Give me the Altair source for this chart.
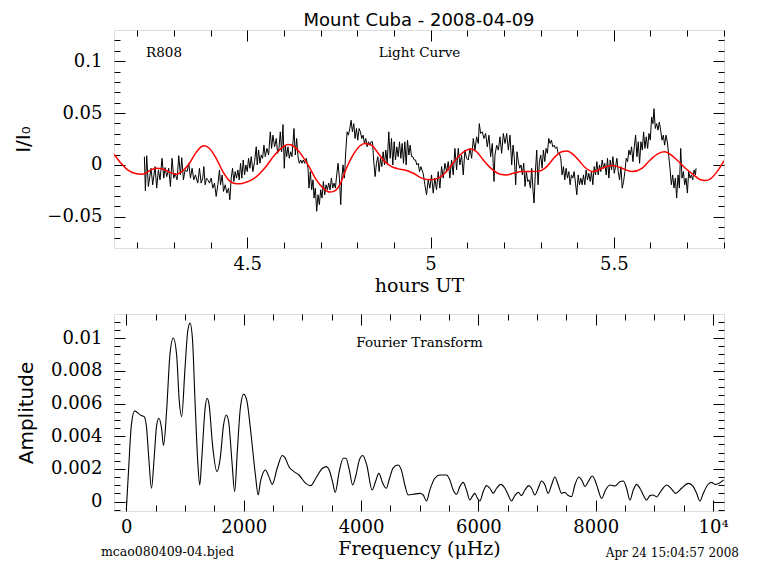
import altair as alt
import pandas as pd

# ---------------- data ----------------
LC_HOURS = [
    4.2195, 4.2222, 4.2258, 4.2303, 4.2376, 4.2422, 4.2486, 4.2531, 4.2577, 4.2622,
    4.2677, 4.2723, 4.2759, 4.2805, 4.2859, 4.2905, 4.2950, 4.2996, 4.3032, 4.3087,
    4.3132, 4.3178, 4.3214, 4.3260, 4.3306, 4.3360, 4.3406, 4.3451, 4.3497, 4.3542,
    4.3588, 4.3652, 4.3697, 4.3743, 4.3788, 4.3816, 4.3852, 4.3889, 4.3925, 4.3971,
    4.4016, 4.4062, 4.4107, 4.4153, 4.4198, 4.4244, 4.4271, 4.4317, 4.4353, 4.4399,
    4.4444, 4.4490, 4.4526, 4.4563, 4.4599, 4.4636, 4.4672, 4.4708, 4.4745, 4.4781,
    4.4818, 4.4854, 4.4891, 4.4927, 4.4964, 4.5000, 4.5036, 4.5073, 4.5109, 4.5155,
    4.5200, 4.5246, 4.5273, 4.5310, 4.5346, 4.5383, 4.5419, 4.5456, 4.5492, 4.5537,
    4.5583, 4.5629, 4.5665, 4.5701, 4.5747, 4.5793, 4.5829, 4.5865, 4.5902, 4.5938,
    4.5975, 4.6011, 4.6039, 4.6075, 4.6111, 4.6148, 4.6184, 4.6221, 4.6275, 4.6312,
    4.6348, 4.6385, 4.6421, 4.6458, 4.6494, 4.6530, 4.6567, 4.6612, 4.6658, 4.6685,
    4.6722, 4.6758, 4.6794, 4.6822, 4.6858, 4.6895, 4.6931, 4.6968, 4.7004, 4.7041,
    4.7077, 4.7114, 4.7150, 4.7186, 4.7223, 4.7259, 4.7296, 4.7332, 4.7369, 4.7405,
    4.7441, 4.7478, 4.7514, 4.7551, 4.7578, 4.7614, 4.7651, 4.7687, 4.7724, 4.7760,
    4.7797, 4.7833, 4.7869, 4.7906, 4.7942, 4.7979, 4.8015, 4.8052, 4.8088, 4.8124,
    4.8161, 4.8197, 4.8234, 4.8270, 4.8307, 4.8343, 4.8379, 4.8416, 4.8452, 4.8489,
    4.8525, 4.8562, 4.8598, 4.8634, 4.8671, 4.8707, 4.8744, 4.8780, 4.8817, 4.8862,
    4.8899, 4.8935, 4.8971, 4.9008, 4.9044, 4.9081, 4.9117, 4.9154, 4.9190, 4.9226,
    4.9263, 4.9299, 4.9336, 4.9372, 4.9409, 4.9445, 4.9481, 4.9518, 4.9554, 4.9591,
    4.9627, 4.9664, 4.9700, 4.9736, 4.9800, 4.9845, 4.9891, 4.9936, 4.9982, 5.0027,
    5.0073, 5.0118, 5.0164, 5.0210, 5.0255, 5.0301, 5.0346, 5.0392, 5.0437, 5.0483,
    5.0528, 5.0574, 5.0619, 5.0665, 5.0711, 5.0756, 5.0802, 5.0847, 5.0893, 5.0938,
    5.0984, 5.1029, 5.1075, 5.1121, 5.1166, 5.1212, 5.1257, 5.1303, 5.1330, 5.1367,
    5.1412, 5.1458, 5.1503, 5.1549, 5.1594, 5.1640, 5.1685, 5.1731, 5.1758, 5.1804,
    5.1849, 5.1895, 5.1940, 5.1986, 5.2032, 5.2077, 5.2123, 5.2168, 5.2214, 5.2250,
    5.2287, 5.2323, 5.2359, 5.2396, 5.2432, 5.2469, 5.2505, 5.2542, 5.2578, 5.2614,
    5.2651, 5.2687, 5.2724, 5.2760, 5.2797, 5.2824, 5.2860, 5.2897, 5.2933, 5.2970,
    5.3006, 5.3043, 5.3079, 5.3116, 5.3152, 5.3188, 5.3225, 5.3261, 5.3298, 5.3334,
    5.3371, 5.3407, 5.3444, 5.3480, 5.3516, 5.3553, 5.3589, 5.3626, 5.3662, 5.3699,
    5.3735, 5.3772, 5.3808, 5.3844, 5.3881, 5.3917, 5.3954, 5.3990, 5.4027, 5.4063,
    5.4100, 5.4136, 5.4172, 5.4209, 5.4245, 5.4282, 5.4318, 5.4355, 5.4391, 5.4427,
    5.4464, 5.4500, 5.4537, 5.4573, 5.4610, 5.4646, 5.4683, 5.4719, 5.4755, 5.4792,
    5.4828, 5.4865, 5.4901, 5.4938, 5.4974, 5.5011, 5.5047, 5.5083, 5.5120, 5.5156,
    5.5193, 5.5229, 5.5266, 5.5302, 5.5338, 5.5375, 5.5411, 5.5448, 5.5484, 5.5521,
    5.5557, 5.5594, 5.5630, 5.5666, 5.5703, 5.5739, 5.5776, 5.5812, 5.5849, 5.5885,
    5.5922, 5.5958, 5.5994, 5.6031, 5.6067, 5.6095, 5.6131, 5.6168, 5.6204, 5.6241,
    5.6277, 5.6314, 5.6350, 5.6386, 5.6423, 5.6459, 5.6496, 5.6532, 5.6569, 5.6605,
    5.6641, 5.6678, 5.6714, 5.6751, 5.6787, 5.6824, 5.6860, 5.6897, 5.6933, 5.6969,
    5.7006, 5.7042, 5.7079, 5.7115, 5.7152, 5.7188, 5.7225, 5.7243,
]
LC_FLUX = [
    0.0080, -0.0249, 0.0089, -0.0207, -0.0032, -0.0191, -0.0016, -0.0223, -0.0048, -0.0143,
    0.0064, -0.0127, -0.0025, -0.0112, -0.0032, -0.0207, 0.0064, -0.0127, -0.0080, -0.0143,
    0.0089, -0.0096, 0.0070, -0.0143, -0.0048, -0.0064, 0.0016, -0.0127, -0.0032, -0.0143,
    -0.0096, -0.0175, -0.0032, -0.0175, -0.0127, -0.0016, -0.0191, -0.0127, -0.0143, -0.0175,
    -0.0127, -0.0223, -0.0175, -0.0303, -0.0191, -0.0048, -0.0191, -0.0096, -0.0255, -0.0191,
    -0.0271, -0.0223, -0.0335, -0.0127, -0.0032, -0.0159, -0.0064, -0.0127, -0.0048, -0.0143,
    0.0016, -0.0127, 0.0048, -0.0096, 0.0000, -0.0064, 0.0064, -0.0032, 0.0080, -0.0064,
    0.0032, 0.0175, 0.0000, 0.0143, 0.0016, 0.0096, 0.0064, 0.0191, 0.0080, 0.0159,
    0.0096, 0.0319, 0.0159, 0.0287, 0.0175, 0.0255, 0.0112, 0.0159, 0.0319, 0.0127,
    0.0389, -0.0032, 0.0191, 0.0080, 0.0175, 0.0064, 0.0127, 0.0080, 0.0351, 0.0096,
    0.0255, 0.0080, 0.0016, 0.0048, 0.0016, 0.0048, 0.0016, 0.0064, -0.0032, -0.0223,
    -0.0064, -0.0239, -0.0143, -0.0319, -0.0223, -0.0446, -0.0287, -0.0382, -0.0239, -0.0319,
    -0.0159, -0.0287, -0.0191, -0.0239, -0.0175, -0.0239, -0.0127, -0.0223, -0.0175, -0.0223,
    -0.0096, 0.0016, -0.0127, -0.0382, -0.0127, 0.0000, -0.0127, 0.0127, 0.0319, 0.0287,
    0.0351, 0.0430, 0.0319, 0.0398, 0.0255, 0.0351, 0.0239, 0.0351, 0.0319, 0.0255,
    0.0287, 0.0207, 0.0255, 0.0175, 0.0223, 0.0191, 0.0223, 0.0223, 0.0032, -0.0112,
    0.0016, 0.0080, -0.0064, 0.0064, -0.0016, 0.0127, 0.0000, 0.0143, 0.0016, 0.0319,
    0.0064, 0.0255, 0.0000, 0.0223, 0.0048, 0.0175, 0.0080, 0.0223, 0.0064, 0.0207,
    0.0016, 0.0223, 0.0000, 0.0239, 0.0096, 0.0191, 0.0080, 0.0080, 0.0048, 0.0048,
    0.0000, 0.0016, -0.0064, -0.0016, -0.0080, -0.0191, -0.0287, -0.0143, -0.0223, -0.0096,
    -0.0271, -0.0127, -0.0239, -0.0064, -0.0223, -0.0016, -0.0127, 0.0016, -0.0064, 0.0032,
    -0.0127, 0.0048, -0.0096, 0.0159, -0.0048, 0.0159, 0.0000, 0.0096, -0.0096, 0.0143,
    0.0064, 0.0048, 0.0159, 0.0064, 0.0255, 0.0143, 0.0271, 0.0207, 0.0398, 0.0303,
    0.0319, 0.0255, 0.0303, 0.0175, 0.0287, 0.0080, 0.0207, -0.0159, 0.0096, 0.0191,
    0.0143, 0.0271, 0.0112, 0.0303, 0.0207, 0.0303, 0.0143, 0.0287, 0.0000, 0.0191,
    0.0064, -0.0191, 0.0127, 0.0032, -0.0032, 0.0000, -0.0096, 0.0016, -0.0207, -0.0064,
    -0.0159, -0.0143, -0.0223, -0.0032, -0.0255, -0.0367, -0.0064, 0.0143, -0.0191, 0.0032,
    0.0096, -0.0032, 0.0143, 0.0032, 0.0159, 0.0112, 0.0255, 0.0207, 0.0239, 0.0175,
    0.0191, 0.0159, 0.0175, 0.0112, 0.0112, 0.0064, -0.0096, -0.0016, -0.0143, -0.0032,
    -0.0127, -0.0064, -0.0191, -0.0096, -0.0127, -0.0064, -0.0175, -0.0287, -0.0096, -0.0191,
    -0.0127, -0.0191, -0.0096, -0.0191, -0.0048, -0.0143, -0.0080, -0.0159, -0.0064, -0.0191,
    -0.0016, -0.0096, 0.0032, -0.0096, 0.0000, -0.0064, 0.0048, -0.0032, 0.0016, -0.0096,
    0.0064, -0.0127, 0.0048, -0.0048, 0.0080, -0.0080, -0.0016, 0.0064, -0.0064, -0.0143,
    -0.0016, -0.0223, -0.0159, -0.0064, 0.0064, 0.0032, 0.0143, 0.0096, 0.0175, 0.0032,
    0.0175, 0.0287, 0.0080, 0.0223, 0.0016, 0.0223, 0.0143, 0.0319, 0.0159, 0.0271,
    0.0159, 0.0303, 0.0239, 0.0462, 0.0398, 0.0542, 0.0351, 0.0398, 0.0335, 0.0414,
    0.0335, 0.0239, 0.0287, 0.0191, 0.0287, 0.0223, 0.0096, -0.0032, -0.0191, -0.0096,
    -0.0223, -0.0127, -0.0319, -0.0096, -0.0223, 0.0159, -0.0127, -0.0064, -0.0191, -0.0127,
    -0.0271, -0.0064, -0.0127, -0.0096, -0.0143, -0.0048, -0.0096, -0.0032,
]

FIT_HOURS = [
    4.137, 4.1557, 4.1739, 4.1921, 4.2149, 4.2331, 4.2513, 4.2695, 4.2877, 4.3060,
    4.3242, 4.3424, 4.3606, 4.3743, 4.3834, 4.3971, 4.4153, 4.4335, 4.4517, 4.4654,
    4.4790, 4.4973, 4.5200, 4.5474, 4.5747, 4.5975, 4.6111, 4.6248, 4.6430, 4.6658,
    4.6886, 4.7068, 4.7250, 4.7387, 4.7523, 4.7706, 4.7888, 4.8070, 4.8207, 4.8389,
    4.8571, 4.8753, 4.8936, 4.9118, 4.9300, 4.9528, 4.9754, 5.0000, 5.0210, 5.0392,
    5.0574, 5.0802, 5.0984, 5.1121, 5.1257, 5.1439, 5.1667, 5.1895, 5.2077, 5.2259,
    5.2487, 5.2760, 5.2988, 5.3170, 5.3398, 5.3580, 5.3717, 5.3854, 5.4036, 5.4218,
    5.4446, 5.4673, 5.4947, 5.5174, 5.5493, 5.5767, 5.5994, 5.6222, 5.6386, 5.6541,
    5.6723, 5.6951, 5.7179, 5.7361, 5.7498, 5.7634, 5.7817, 5.8005,
]
FIT_FLUX = [
    0.0102, 0.0016, -0.0048, -0.0080, -0.0089, -0.0057, -0.0032, -0.0038, -0.0070, -0.0089,
    -0.0057, 0.0016, 0.0121, 0.0175, 0.0185, 0.0159, 0.0064, -0.0064, -0.0153, -0.0178,
    -0.0182, -0.0166, -0.0127, -0.0032, 0.0096, 0.0175, 0.0198, 0.0185, 0.0121, 0.0000,
    -0.0143, -0.0223, -0.0261, -0.0249, -0.0191, -0.0032, 0.0096, 0.0182, 0.0207, 0.0191,
    0.0112, 0.0032, -0.0016, -0.0038, -0.0048, -0.0080, -0.0127, -0.0143, -0.0127, -0.0080,
    0.0000, 0.0096, 0.0143, 0.0153, 0.0127, 0.0048, -0.0038, -0.0089, -0.0096, -0.0080,
    -0.0064, -0.0064, -0.0057, -0.0016, 0.0080, 0.0127, 0.0134, 0.0112, 0.0048, -0.0025,
    -0.0064, -0.0032, -0.0006, -0.0025, -0.0064, -0.0032, 0.0048, 0.0112, 0.0127, 0.0102,
    0.0048, -0.0032, -0.0096, -0.0143, -0.0150, -0.0134, -0.0064, 0.0040,
]

FT_FREQ = [
    0, 40, 86, 143, 200, 257, 303, 343, 383, 429,
    474, 514, 554, 600, 634, 686, 743, 800, 857, 903,
    943, 1000, 1046, 1086, 1126, 1171, 1217, 1251, 1286, 1343,
    1377, 1411, 1469, 1543, 1600, 1657, 1703, 1743, 1800, 1846,
    1891, 1943, 2000, 2057, 2114, 2200, 2246, 2286, 2326, 2371,
    2429, 2486, 2571, 2657, 2703, 2771, 2857, 2943, 3057, 3143,
    3229, 3343, 3411, 3457, 3514, 3560, 3628, 3697, 3743, 3800,
    3857, 3914, 3971, 4029, 4097, 4189, 4246, 4303, 4371, 4429,
    4486, 4543, 4629, 4686,
    4746, 4803, 4888, 5002, 5058, 5115, 5172, 5257, 5343, 5456,
    5513, 5570, 5627, 5684, 5740, 5797, 5854, 5894, 5939, 5985,
    6025, 6081, 6138, 6195, 6252, 6309, 6383, 6451, 6508, 6564,
    6621, 6678, 6735, 6792, 6860, 6905, 6962, 7019, 7076, 7133,
    7189, 7246, 7303, 7360, 7417, 7473, 7519, 7587, 7644, 7712,
    7769, 7815, 7871, 7940, 7985, 8042, 8099, 8167, 8241, 8326,
    8411, 8468, 8525, 8582, 8639, 8696, 8752, 8809, 8866, 8923,
    8979, 9036, 9122, 9207, 9292, 9360, 9463, 9576, 9661, 9718,
    9775, 9832, 9906, 9974, 10031, 10088, 10179,
]
FT_AMP = [
    -0.00051, 0.00204, 0.00469, 0.00555, 0.00541, 0.00526, 0.00520, 0.00459, 0.00265, 0.00082,
    0.00265, 0.00459, 0.00510, 0.00449, 0.00343, 0.00551, 0.00898, 0.01000, 0.00898, 0.00612,
    0.00520, 0.00816, 0.01040, 0.01091, 0.01000, 0.00612, 0.00245, 0.00102, 0.00265, 0.00571,
    0.00632, 0.00592, 0.00347, 0.00184, 0.00265, 0.00469, 0.00530, 0.00490, 0.00245, 0.00061,
    0.00306, 0.00571, 0.00657, 0.00612, 0.00449, 0.00163, 0.00041, 0.00122, 0.00173, 0.00194,
    0.00153, 0.00106, 0.00204, 0.00282, 0.00269, 0.00214, 0.00184, 0.00163, 0.00112, 0.00098,
    0.00143, 0.00204, 0.00214, 0.00194, 0.00122, 0.00057, 0.00184, 0.00265, 0.00265, 0.00194,
    0.00102, 0.00163, 0.00255, 0.00282, 0.00224, 0.00071, 0.00122, 0.00173, 0.00112, 0.00082,
    0.00143, 0.00204, 0.00224, 0.00194,
    0.00102, 0.00041, 0.00045, 0.00051, 0.00041, 0.00004, 0.00071, 0.00143, 0.00163, 0.00163,
    0.00133, 0.00071, 0.00045, 0.00092, 0.00118, 0.00071, 0.00010, 0.00031, 0.00051, 0.00020,
    0.00004, 0.00061, 0.00098, 0.00082, 0.00051, 0.00082, 0.00106, 0.00082, 0.00041, 0.00004,
    0.00037, 0.00057, 0.00037, 0.00071, 0.00098, 0.00082, 0.00041, 0.00082, 0.00126, 0.00102,
    0.00051, 0.00102, 0.00151, 0.00102, 0.00051, 0.00057, 0.00041, 0.00031, 0.00102, 0.00151,
    0.00126, 0.00092, 0.00122, 0.00157, 0.00133, 0.00071, 0.00020, 0.00071, 0.00102, 0.00096,
    0.00122, 0.00126, 0.00082, 0.00010, 0.00071, 0.00106, 0.00082, 0.00041, 0.00010, 0.00037,
    0.00041, 0.00029, 0.00071, 0.00102, 0.00077, 0.00051, 0.00082, 0.00112, 0.00092, 0.00051,
    0.00004, 0.00051, 0.00102, 0.00118, 0.00106, 0.00110, 0.00133,
]

# axis tick positions
TOP_X_MAJOR = [4.5, 5.0, 5.5]
TOP_X_MINOR = [4.2, 4.3, 4.4, 4.6, 4.7, 4.8, 4.9, 5.1, 5.2, 5.3, 5.4, 5.6, 5.7, 5.8]
TOP_Y_MAJOR = [-0.05, 0.0, 0.05, 0.1]
TOP_Y_MINOR = [-0.07, -0.06, -0.04, -0.03, -0.02, -0.01, 0.01, 0.02, 0.03, 0.04,
               0.06, 0.07, 0.08, 0.09, 0.11, 0.12]
BOT_X_MAJOR = [0, 2000, 4000, 6000, 8000, 10000]
BOT_X_MINOR = [500, 1000, 1500, 2500, 3000, 3500, 4500, 5000, 5500, 6500, 7000, 7500,
               8500, 9000, 9500]
BOT_Y_MAJOR = [0.0, 0.002, 0.004, 0.006, 0.008, 0.01]
BOT_Y_MINOR = [-0.0005, 0.0005, 0.001, 0.0015, 0.0025, 0.003, 0.0035, 0.0045, 0.005,
               0.0055, 0.0065, 0.007, 0.0075, 0.0085, 0.009, 0.0095, 0.0105, 0.011]

TITLE = "Mount Cuba - 2008-04-09"
TOP_LABELS = ["R808", "Light Curve"]
TOP_LABEL_X = [4.273, 4.97]
TOP_LABEL_Y = [0.1074, 0.1074]
BOT_LABELS = ["Fourier Transform"]
BOT_LABEL_X = [4996]
BOT_LABEL_Y = [0.00972]
FOOT_LEFT = "mcao080409-04.bjed"
FOOT_RIGHT = "Apr 24 15:04:57 2008"

# ---------------- styling ----------------
W = 610
H_TOP = 218
H_BOT = 197
SERIF = "DejaVu Serif"
SANS = "DejaVu Sans"
MAJ = 11
MIN = 6

lc = pd.DataFrame({"h": LC_HOURS, "f": LC_FLUX})
fit = pd.DataFrame({"h": FIT_HOURS, "f": FIT_FLUX})
ft = pd.DataFrame({"nu": FT_FREQ, "a": FT_AMP})
top_lab = pd.DataFrame({"h": TOP_LABEL_X, "f": TOP_LABEL_Y, "t": TOP_LABELS})
bot_lab = pd.DataFrame({"nu": BOT_LABEL_X, "a": BOT_LABEL_Y, "t": BOT_LABELS})
foot_l = pd.DataFrame({"t": [FOOT_LEFT]})
foot_r = pd.DataFrame({"t": [FOOT_RIGHT]})

xs_top = alt.Scale(domain=[4.1366, 5.8005], nice=False, zero=False)
ys_top = alt.Scale(domain=[-0.08, 0.13], nice=False, zero=False)
xs_bot = alt.Scale(domain=[-210, 10185], nice=False, zero=False)
ys_bot = alt.Scale(domain=[-0.00057, 0.01147], nice=False, zero=False)


def tick_axis(orient, offset, values, size):
    return alt.Axis(orient=orient, offset=offset, values=values, tickSize=size,
                    ticks=True, labels=False, domain=False, grid=False, title=None,
                    tickColor="black", tickWidth=1)


def tick_layers(df, xf, yf, xs, ys, w, h, xmaj, xmin, ymaj, ymin):
    out = []
    for xo, yo, xv, yv, size in [("top", "right", xmaj, ymaj, MAJ),
                                  ("top", "right", xmin, ymin, MIN),
                                  ("bottom", "left", xmaj, ymaj, MAJ),
                                  ("bottom", "left", xmin, ymin, MIN)]:
        out.append(
            alt.Chart(df).mark_line(opacity=0).encode(
                x=alt.X(f"{xf}:Q", scale=xs, axis=tick_axis(xo, -h, xv, size)),
                y=alt.Y(f"{yf}:Q", scale=ys, axis=tick_axis(yo, -w, yv, size)),
            )
        )
    return out


def label_x_axis(values, title, fmt, expr=None):
    kw = dict(orient="bottom", values=values, ticks=False, tickSize=0, domain=False,
              grid=False, labelFont=SERIF, labelFontSize=18, labelColor="black",
              labelPadding=7, labelFlush=False, labelOverlap=False, format=fmt,
              title=title, titleFont=SERIF, titleFontSize=19, titleFontWeight="normal",
              titleColor="black", titleBaseline="middle", titleY=37)
    if expr:
        kw["labelExpr"] = expr
    return alt.Axis(**kw)


def label_y_axis(values, title, title_x):
    return alt.Axis(orient="left", values=values, ticks=False, tickSize=0, domain=False,
                    grid=False, labelFont=SERIF, labelFontSize=18, labelColor="black",
                    labelPadding=12, labelFlush=False, labelOverlap=False, format="~g",
                    title=title, titleFont=SANS, titleFontSize=20,
                    titleFontWeight="normal", titleColor="black",
                    titleBaseline="middle", titleX=title_x)


# ---------------- top panel: light curve ----------------
lc_line = alt.Chart(lc).mark_line(color="black", strokeWidth=1, clip=True).encode(
    x=alt.X("h:Q", scale=xs_top, axis=label_x_axis(TOP_X_MAJOR, "hours UT", "~g")),
    y=alt.Y("f:Q", scale=ys_top, axis=label_y_axis(TOP_Y_MAJOR, "I/I₀", -91)),
)
fit_line = alt.Chart(fit).mark_line(color="#ff0000", strokeWidth=1.5,
                                    interpolate="monotone", clip=True).encode(
    x=alt.X("h:Q", scale=xs_top, axis=None),
    y=alt.Y("f:Q", scale=ys_top, axis=None),
)
top_text = alt.Chart(top_lab).mark_text(font=SERIF, fontSize=13.5, color="black",
                                        align="center", baseline="middle").encode(
    x=alt.X("h:Q", scale=xs_top, axis=None),
    y=alt.Y("f:Q", scale=ys_top, axis=None),
    text="t:N",
)
top = alt.layer(
    lc_line, fit_line, top_text,
    *tick_layers(lc, "h", "f", xs_top, ys_top, W, H_TOP,
                 TOP_X_MAJOR, TOP_X_MINOR, TOP_Y_MAJOR, TOP_Y_MINOR),
).resolve_axis(x="independent", y="independent").properties(
    width=W, height=H_TOP,
    title=alt.TitleParams(TITLE, font=SANS, fontSize=18, fontWeight="normal",
                          color="black", anchor="middle", offset=0),
)

# ---------------- bottom panel: Fourier transform ----------------
ft_line = alt.Chart(ft).mark_line(color="black", strokeWidth=1.1,
                                  interpolate="monotone", clip=True).encode(
    x=alt.X("nu:Q", scale=xs_bot,
            axis=label_x_axis(BOT_X_MAJOR, "Frequency (μHz)", "d",
                              "datum.value == 10000 ? '10⁴' : datum.label")),
    y=alt.Y("a:Q", scale=ys_bot, axis=label_y_axis(BOT_Y_MAJOR, "Amplitude", -88)),
)
bot_text = alt.Chart(bot_lab).mark_text(font=SERIF, fontSize=13.5, color="black",
                                        align="center", baseline="middle").encode(
    x=alt.X("nu:Q", scale=xs_bot, axis=None),
    y=alt.Y("a:Q", scale=ys_bot, axis=None),
    text="t:N",
)
foot_left = alt.Chart(foot_l).mark_text(font=SERIF, fontSize=12.5, color="black",
                                        align="left", baseline="middle").encode(
    x=alt.value(-13), y=alt.value(238), text="t:N")
foot_right = alt.Chart(foot_r).mark_text(font=SERIF, fontSize=12, color="black",
                                         align="right", baseline="middle").encode(
    x=alt.value(625), y=alt.value(239), text="t:N")

bottom = alt.layer(
    ft_line, bot_text, foot_left, foot_right,
    *tick_layers(ft, "nu", "a", xs_bot, ys_bot, W, H_BOT,
                 BOT_X_MAJOR, BOT_X_MINOR, BOT_Y_MAJOR, BOT_Y_MINOR),
).resolve_axis(x="independent", y="independent").properties(width=W, height=H_BOT)

chart = alt.vconcat(top, bottom, spacing=17).configure_view(
    stroke="black", strokeWidth=1
).configure(
    background="white",
    padding={"left": 4, "top": 3, "right": 4, "bottom": 0},
)

chart.save("out.html", embed_options={"renderer": "svg", "actions": False})
